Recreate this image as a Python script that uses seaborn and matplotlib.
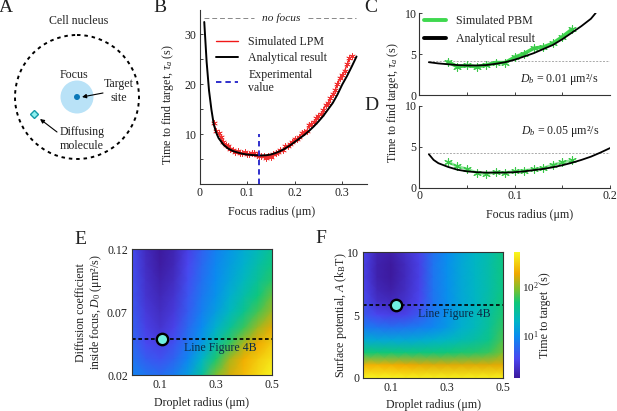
import numpy as np
import seaborn as sns
import matplotlib.pyplot as plt
from matplotlib.colors import LinearSegmentedColormap
from matplotlib.patches import Circle

# Panel B -------------------------------------
b_x = [.01, .015, .02, .025, .03, .035, .04, .05, .06, .07, .08, .09, .1, .11, .12, .13, .14, .15, .16, .17,
       .18, .19, .2, .21, .22, .23, .24, .25, .26, .27, .28, .29, .3, .31, .32, .33]
b_y = [32.5, 24.5, 18.8, 15, 12.0, 10.4, 9.3, 8.0, 7.2, 6.7, 6.4, 6.15, 6.0, 5.9, 5.85, 5.8, 5.85, 6.0, 6.3, 6.7,
       7.2, 7.8, 8.5, 9.2, 9.9, 10.7, 11.6, 12.6, 13.7, 15.0, 16.3, 18.0, 20.0, 21.7, 23.6, 25.6]
lpm_x = [.03, .035, .04, .045, .05, .055, .06, .065, .07, .075, .08, .085, .09, .095, .1, .105, .11, .115, .12,
         .125, .13, .135, .14, .145, .15, .155, .16, .165, .17, .175, .18, .185, .19, .195, .2, .205, .21, .215,
         .22, .225, .23, .235, .24, .245, .25, .255, .26, .265, .27, .275, .28, .285, .29, .295, .3, .305, .31, .315, .32]
lpm_y = [12.3, 10.6, 10.2, 9.4, 8.4, 7.8, 7.7, 7.1, 6.9, 6.5, 6.6, 6.2, 6.2, 6.4, 6.1, 6.0, 6.2, 6.3, 5.9,
         5.7, 5.6, 5.6, 5.3, 5.7, 5.4, 6.0, 6.2, 6.5, 6.9, 6.8, 7.6, 7.6, 8.1, 8.5, 9.1, 9.1, 9.5, 10.2,
         10.5, 10.6, 11.8, 12.0, 12.4, 13.2, 13.6, 14.0, 14.9, 15.9, 16.2, 17.3, 18.0, 18.9, 20.1, 21.2, 21.9, 22.7, 24.0, 25.2, 25.6]
b_nofocus = 33.3
b_exp_x = .125
b_exp_top = 10

# Panels C and D ------------------------------
cd_x = [.01, .02, .03, .04, .05, .06, .07, .08, .09, .1, .11, .12, .13, .14, .15, .16, .17, .18, .185]
c_y = [4.0, 3.85, 3.75, 3.65, 3.6, 3.6, 3.65, 3.8, 4.0, 4.3, 4.7, 5.1, 5.6, 6.1, 6.8, 7.6, 8.4, 9.3, 10.0]
pbm_x = [.03, .04, .05, .06, .07, .08, .09, .1, .11, .12, .13, .14, .15, .16]
c_sim = [4.05, 3.45, 3.6, 3.45, 3.65, 3.95, 3.95, 4.6, 5.05, 5.7, 5.85, 6.3, 7.1, 8.0]
d_x = [.01, .015, .02, .03, .04, .05, .06, .07, .08, .09, .1, .11, .12, .13, .14, .15, .16, .17, .18, .19, .2]
d_y = [4.1, 3.4, 3.0, 2.55, 2.2, 2.0, 1.9, 1.85, 1.85, 1.85, 1.9, 2.0, 2.15, 2.3, 2.5, 2.75, 3.05, 3.4, 3.8, 4.3, 4.85]
d_sim = [3.15, 2.6, 2.3, 1.85, 1.7, 1.9, 1.85, 2.0, 2.1, 2.25, 2.4, 2.8, 3.1, 3.35]
cd_nofocus = 4.2

# Panels E and F: colour-scale position, 0 = bottom of colourbar, 1 = top
radius = [0, .05, .1, .15, .2, .25, .3, .35, .4, .45, .5]
e_d0 = [.12, .1075, .095, .0825, .07, .0575, .045, .0325, .02]
e_pos = [[.17, .06, .00, .04, .13, .22, .30, .36, .42, .48, .55],
         [.17, .07, .01, .05, .15, .24, .32, .38, .44, .51, .58],
         [.18, .08, .03, .07, .17, .26, .33, .40, .47, .54, .62],
         [.19, .09, .05, .09, .19, .28, .35, .43, .51, .59, .68],
         [.20, .11, .07, .11, .21, .30, .38, .47, .56, .65, .74],
         [.22, .13, .09, .14, .24, .33, .44, .54, .64, .74, .82],
         [.24, .16, .13, .18, .27, .37, .51, .63, .75, .83, .90],
         [.27, .21, .18, .23, .32, .45, .61, .75, .84, .90, .95],
         [.31, .27, .25, .29, .38, .53, .70, .80, .87, .93, .99]]
f_a = [10, 9, 8, 7, 6, 5, 4, 3, 2, 1, 0]
f_pos = [[.15, .04, .02, .08, .14, .26, .33, .40, .46, .50, .58],
         [.14, .03, .00, .06, .13, .27, .34, .41, .46, .51, .58],
         [.14, .03, .00, .06, .13, .27, .34, .41, .46, .51, .58],
         [.15, .05, .02, .07, .14, .27, .34, .41, .46, .51, .58],
         [.17, .08, .06, .09, .15, .27, .34, .41, .46, .52, .60],
         [.20, .15, .13, .14, .20, .28, .35, .42, .47, .53, .61],
         [.29, .27, .26, .27, .29, .32, .37, .43, .48, .54, .63],
         [.42, .41, .41, .41, .42, .44, .46, .49, .52, .57, .66],
         [.60, .60, .60, .59, .59, .59, .60, .61, .62, .64, .70],
         [.85, .85, .84, .83, .82, .81, .81, .81, .81, .81, .82],
         [.99, .99, .99, .98, .98, .98, .98, .98, .98, .98, .98]]
log_tau_lo, log_tau_hi = .116, 2.71
e_line, e_dot = .0486, .108
f_line, f_dot = 5.8, .116
cbar_ticks = [1, 2]
cbar_labels = ['$10^1$', '$10^2$']
cmap_colors = ['#3d1a9e', '#4a46f0', '#0a8cf0', '#00b5c8', '#10c878', '#78c030', '#f0a800', '#f8f820']
cmap_pos = [0, .15, .33, .45, .6, .7, .83, 1]

sns.set_theme(style='ticks')
plt.rcParams['font.family'] = ['Liberation Serif', 'DejaVu Serif']
plt.rcParams['mathtext.fontset'] = 'custom'
plt.rcParams['mathtext.rm'] = 'Liberation Serif'
plt.rcParams['mathtext.it'] = 'Liberation Serif:italic'
plt.rcParams['xtick.direction'] = 'in'
plt.rcParams['ytick.direction'] = 'in'
plt.rcParams['axes.linewidth'] = .8
plt.rcParams['axes.edgecolor'] = '#333333'
plt.rcParams['text.color'] = '#222222'
plt.rcParams['axes.labelcolor'] = '#222222'
plt.rcParams['xtick.color'] = '#222222'
plt.rcParams['ytick.color'] = '#222222'
FS = 8.6

W, H = 617, 411
fig = plt.figure(figsize=(W / 100, H / 100), dpi=100)
parula = LinearSegmentedColormap.from_list('parula_ish', list(zip(cmap_pos, cmap_colors)))


def box(left, top, right, bottom):
    return fig.add_axes([left / W, 1 - bottom / H, (right - left) / W, (bottom - top) / H])


def stars(ax, x, y, color, size, lw):
    sns.scatterplot(x=x, y=y, ax=ax, marker=(6, 2, 0), s=size, color=color, linewidth=lw, zorder=3)


# Panel A: schematic, in figure pixels --------
sk = fig.add_axes([0, 0, 1, 1])
sk.set_zorder(10)
sk.set_xlim(0, W)
sk.set_ylim(H, 0)
sk.axis('off')
sk.add_patch(Circle((77, 97), 62, fill=False, ec='black', lw=1.4, ls=(0, (1.8, 2))))
sk.add_patch(Circle((77, 97), 16.5, fc='#b9e2f7', ec='none'))
sk.add_patch(Circle((77, 97), 3, fc='#0a78b8', ec='none'))
sk.plot([33.5], [114], marker='D', ms=4.5, mfc='#8ff0f0', mec='#159aa8', mew=1)
sk.annotate('', xy=(82, 97), xytext=(103, 93), arrowprops=dict(arrowstyle='-|>', color='black', lw=.8, mutation_scale=6, shrinkA=0, shrinkB=0))
sk.annotate('', xy=(40, 119), xytext=(57, 132), arrowprops=dict(arrowstyle='-|>', color='black', lw=.8, mutation_scale=6, shrinkA=0, shrinkB=0))
sk.text(78.5, 21, 'Cell nucleus', ha='center', va='center', fontsize=FS)
sk.text(74, 75, 'Focus', ha='center', va='center', fontsize=FS)
sk.text(119, 91, 'Target\nsite', ha='center', va='center', fontsize=FS, linespacing=1.2)
sk.text(82, 139, 'Diffusing\nmolecule', ha='center', va='center', fontsize=FS, linespacing=1.2)
for letter, lx, ly in [('A', 6, 7), ('B', 160, 7), ('C', 371, 7), ('D', 371, 105), ('E', 80, 239), ('F', 321, 238)]:
    sk.text(lx, ly, letter, ha='center', va='center', fontsize=14)

# Panel B -------------------------------------
ax = box(199.5, 10, 367, 184.5)
sns.lineplot(x=lpm_x, y=lpm_y, ax=ax, color='#f01818', lw=1, label='Simulated LPM', zorder=2)
stars(ax, lpm_x, lpm_y, '#f03030', 18, .5)
sns.lineplot(x=b_x, y=b_y, ax=ax, color='black', lw=1.4, label='Analytical result', zorder=4)
ax.plot([b_exp_x, b_exp_x], [0, b_exp_top], color='#2020c8', lw=1.3, ls=(0, (3, 2.2)), label='Experimental\nvalue', zorder=5)
ax.plot([.01, .114], [b_nofocus, b_nofocus], color='#888888', lw=.7, ls=(0, (5, 3)))
ax.plot([.229, .329], [b_nofocus, b_nofocus], color='#888888', lw=.7, ls=(0, (5, 3)))
ax.text(.171, b_nofocus, 'no focus', style='italic', ha='center', va='center', fontsize=FS - .4)
ax.set_xlim(0, .352)
ax.set_ylim(0, 34.9)
ax.set_xticks([0, .1, .2, .3], ['0', '0.1', '0.2', '0.3'])
ax.set_yticks([5, 10, 15, 20, 25, 30], ['', '10', '', '20', '', '30'])
ax.tick_params(length=2.5, width=.6, labelsize=FS, pad=2)
ax.set_xlabel('Focus radius (μm)', fontsize=FS, labelpad=5, x=.433)
ax.set_ylabel(r'Time to find target, $\tau_a$ (s)', fontsize=FS, labelpad=6, y=.46)
sns.despine(ax=ax)
ax.legend(loc='upper left', bbox_to_anchor=(.1, .85), frameon=False, fontsize=FS, handlelength=1.85, labelspacing=.35, handletextpad=.85, borderaxespad=0, borderpad=0)

# Panels C and D ------------------------------
ax = box(419.3, 13, 610, 95)
ax.plot([.01, .2], [cd_nofocus, cd_nofocus], color='#aaaaaa', lw=.7, ls=(0, (2, 1.5)))
sns.lineplot(x=pbm_x, y=c_sim, ax=ax, color='#3fd84f', lw=2.6, label='Simulated PBM', zorder=2)
stars(ax, pbm_x, c_sim, '#3bc94a', 30, .8)
sns.lineplot(x=cd_x, y=c_y, ax=ax, color='black', lw=1.3, label='Analytical result', zorder=4)
ax.text(.147, 1.95, '$D_b$ = 0.01 μm²/s', ha='center', va='center', fontsize=FS)
ax.set_xlim(0, .2)
ax.set_ylim(0, 10)
ax.set_xticks([.05, .1, .15], ['', '', ''])
ax.set_yticks([0, 5, 10])
ax.tick_params(length=2.5, width=.6, labelsize=FS, pad=2)
sns.despine(ax=ax)
ax.legend(loc='upper left', bbox_to_anchor=(.025, .97), frameon=False, fontsize=FS, handlelength=1.85, labelspacing=.45, handletextpad=.85, borderaxespad=0, borderpad=0)
for line in ax.get_legend().get_lines():
    line.set_linewidth(2.8)

ax = box(419.3, 106, 610, 187.7)
ax.plot([.01, .2], [cd_nofocus, cd_nofocus], color='#aaaaaa', lw=.7, ls=(0, (2, 1.5)))
sns.lineplot(x=pbm_x, y=d_sim, ax=ax, color='#8fe89a', lw=2, zorder=2)
stars(ax, pbm_x, d_sim, '#3bc94a', 30, .8)
sns.lineplot(x=d_x, y=d_y, ax=ax, color='black', lw=1.3, zorder=4)
ax.text(.1476, 6.94, '$D_b$ = 0.05 μm²/s', ha='center', va='center', fontsize=FS)
ax.set_xlim(0, .2)
ax.set_ylim(0, 10)
ax.set_xticks([0, .05, .1, .15, .2], ['0', '', '0.1', '', '0.2'])
ax.set_yticks([0, 5, 10])
ax.tick_params(length=2.5, width=.6, labelsize=FS, pad=2)
ax.set_xlabel('Focus radius (μm)', fontsize=FS, labelpad=5, x=.578)
sns.despine(ax=ax)
sk.text(393, 103, r'Time to find target, $\tau_a$ (s)', rotation=90, ha='center', va='center', fontsize=FS)


# Panels E and F ------------------------------
def heat(ax, xs, ys, pos, line_y, dot_x):
    log_tau = log_tau_lo + np.array(pos) * (log_tau_hi - log_tau_lo)
    ax.pcolormesh(xs, ys, log_tau, shading='gouraud', cmap=parula, vmin=log_tau_lo, vmax=log_tau_hi)
    ax.axhline(line_y, color='black', lw=1.2, ls=(0, (2.2, 1.6)))
    ax.plot([dot_x], [line_y], marker='o', ms=8.2, mfc='#6ff0e0', mec='black', mew=1.7)
    ax.set_xlim(0, .5)
    ax.set_xticks([.1, .3, .5], ['0.1', '0.3', '0.5'])
    ax.set_xticks([.2, .4], minor=True)
    ax.tick_params(which='both', length=2, width=.6, labelsize=FS, pad=3, top=True, right=True)
    ax.set_xlabel('Droplet radius (μm)', fontsize=FS, labelpad=4)


ax = box(132, 249.3, 271.7, 375)
heat(ax, radius, e_d0, e_pos, e_line, e_dot)
ax.set_ylim(.02, .12)
ax.set_yticks([.02, .07, .12], ['0.02', '0.07', '0.12'])
ax.set_yticks([.045, .095], minor=True)
ax.set_ylabel('Diffusion coefficient\ninside focus, $D_0$ (μm²/s)', fontsize=FS, labelpad=2, linespacing=1.15)
ax.text(.315, .0415, 'Line Figure 4B', ha='center', va='center', fontsize=FS, color='#0b2c48')

ax = box(363.3, 252.3, 503.3, 377.7)
heat(ax, radius, f_a, f_pos, f_line, f_dot)
ax.set_ylim(0, 10)
ax.set_yticks([0, 5, 10])
ax.set_yticks([2.5, 7.5], minor=True)
ax.set_ylabel(r'Surface potential, $A$ (k$_{\mathrm{B}}$T)', fontsize=FS, labelpad=-1)
ax.text(.325, 5.05, 'Line Figure 4B', ha='center', va='center', fontsize=FS, color='#0b2c48')

cax = box(514.3, 252.3, 520.3, 377.7)
cax.imshow(np.linspace(log_tau_hi, log_tau_lo, 256).reshape(-1, 1), aspect='auto', cmap=parula,
           vmin=log_tau_lo, vmax=log_tau_hi, extent=[0, 1, log_tau_lo, log_tau_hi])
cax.set_xticks([])
cax.yaxis.tick_right()
cax.set_yticks(cbar_ticks, cbar_labels)
cax.tick_params(length=0, labelsize=FS - .4, pad=1)
for s in cax.spines.values():
    s.set_visible(False)
sk.text(545, 315, 'Time to target  (s)', rotation=90, ha='center', va='center', fontsize=FS)

fig.savefig('out.png', dpi=100)
